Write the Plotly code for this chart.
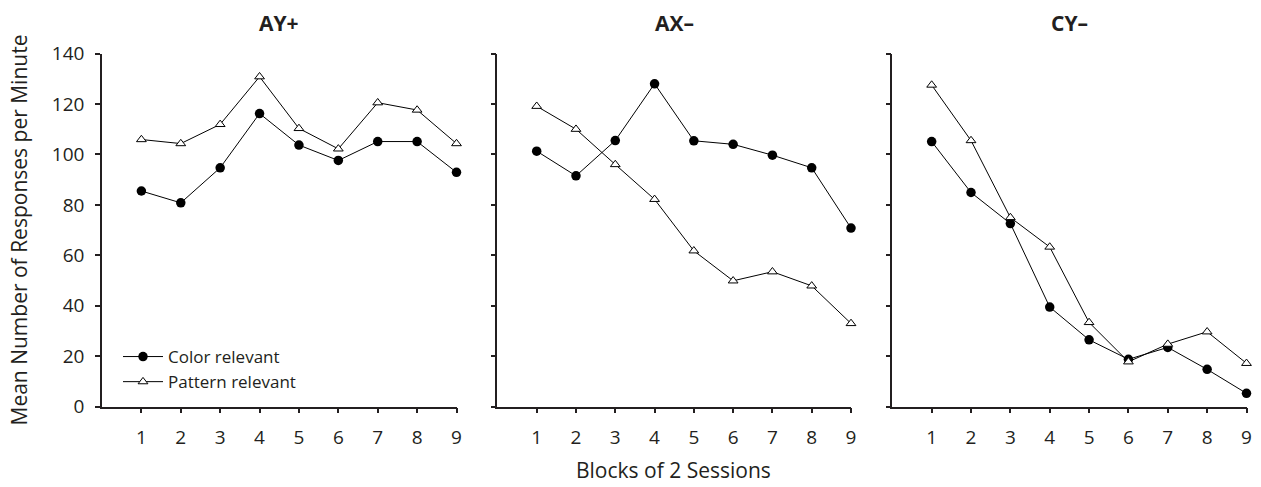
import plotly.graph_objects as go

blocks = [1, 2, 3, 4, 5, 6, 7, 8, 9]
panels = ["AY+", "AX–", "CY–"]
color_relevant = {
    "AY+": [85.5, 80.8, 94.7, 116.2, 103.7, 97.6, 105.1, 105.1, 92.9],
    "AX–": [101.3, 91.5, 105.5, 128.0, 105.4, 104.0, 99.7, 94.7, 70.8],
    "CY–": [105.1, 84.9, 72.6, 39.5, 26.5, 18.8, 23.5, 14.8, 5.3],
}
pattern_relevant = {
    "AY+": [105.9, 104.3, 111.9, 130.8, 110.3, 102.2, 120.5, 117.6, 104.3],
    "AX–": [119.1, 110.0, 96.0, 82.2, 61.8, 49.9, 53.5, 47.9, 33.0],
    "CY–": [127.5, 105.5, 75.0, 63.3, 33.4, 17.8, 24.8, 29.7, 17.2],
}
y_ticks = [0, 20, 40, 60, 80, 100, 120, 140]

W, H = 1261, 487
FONT = "Open Sans"
INK = "#231f20"
domains = [(102 / W, 456.5 / W), (497.4 / W, 851 / W), (892.3 / W, 1246.5 / W)]
ydom = (1 - 406.7 / H, 1 - 53.5 / H)

fig = go.Figure()
for i, p in enumerate(panels):
    xa = "x" if i == 0 else f"x{i+1}"
    ya = "y" if i == 0 else f"y{i+1}"
    fig.add_trace(go.Scatter(
        x=blocks, y=color_relevant[p], xaxis=xa, yaxis=ya, mode="lines+markers",
        name="Color relevant", showlegend=(i == 0), cliponaxis=False,
        line=dict(color="black", width=1),
        marker=dict(symbol="circle", size=9.5, color="black"),
    ))
    fig.add_trace(go.Scatter(
        x=blocks, y=pattern_relevant[p], xaxis=xa, yaxis=ya, mode="lines+markers",
        name="Pattern relevant", showlegend=(i == 0), cliponaxis=False,
        line=dict(color="black", width=1),
        marker=dict(symbol="triangle-up", size=8.5, color="white",
                    line=dict(color="black", width=1)),
    ))

layout = dict(
    template="none",
    width=W, height=H, margin=dict(l=0, r=0, t=0, b=0, pad=0, autoexpand=False),
    paper_bgcolor="white", plot_bgcolor="white",
    font=dict(family=FONT, size=19, color=INK),
    showlegend=True,
    legend=dict(x=118 / W, y=1 - 339 / H, xanchor="left", yanchor="top",
                bgcolor="rgba(0,0,0,0)", font=dict(size=17), tracegroupgap=0,
                itemwidth=40, borderwidth=0),
)
for i in range(3):
    sx = "" if i == 0 else str(i + 1)
    layout[f"xaxis{sx}"] = dict(
        domain=domains[i], range=[0, 9], anchor=f"y{sx}", automargin=False,
        tickvals=blocks, ticks="outside", ticklen=5, tickcolor=INK, tickwidth=1.5,
        showline=True, linecolor=INK, linewidth=1.5, showgrid=False,
        zeroline=False, fixedrange=True, tickfont=dict(size=19),
        ticklabelstandoff=8,
    )
    layout[f"yaxis{sx}"] = dict(
        domain=ydom, range=[0, 140], anchor=f"x{sx}", automargin=False,
        tickvals=y_ticks, ticks="outside", ticklen=5, tickcolor=INK, tickwidth=1.5,
        showline=True, linecolor=INK, linewidth=1.5, showgrid=False,
        zeroline=False, showticklabels=(i == 0), tickfont=dict(size=19),
        ticklabelstandoff=7,
    )
fig.update_layout(**layout)

annotations = []
for i, p in enumerate(panels):
    cx = (domains[i][0] + domains[i][1]) / 2
    annotations.append(dict(text=f"<b>{p}</b>", x=cx, y=1 - 23 / H, xref="paper", yref="paper",
                            showarrow=False, font=dict(size=21), xanchor="center", yanchor="middle"))
annotations.append(dict(text="Blocks of 2 Sessions", x=673 / W, y=1 - 486 / H, xref="paper",
                        yref="paper", showarrow=False, font=dict(size=21),
                        xanchor="center", yanchor="bottom"))
annotations.append(dict(text="Mean Number of Responses per Minute", x=18.5 / W, y=1 - 230 / H,
                        xref="paper", yref="paper", showarrow=False, textangle=-90,
                        font=dict(size=21), xanchor="center", yanchor="middle"))
fig.update_layout(annotations=annotations)

fig.write_html("out.html")
